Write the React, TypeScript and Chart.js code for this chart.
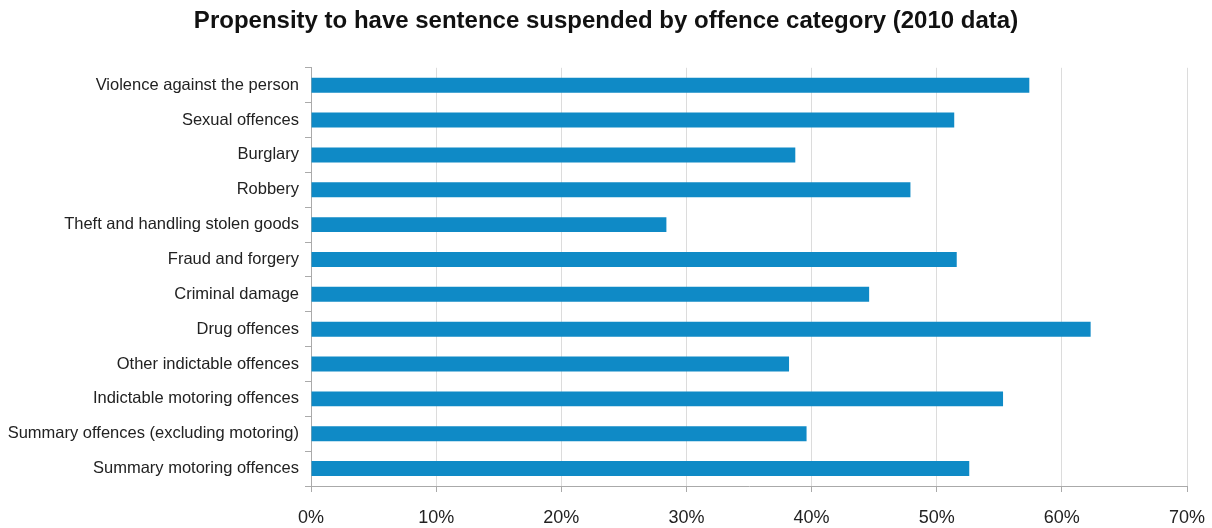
import React, { useEffect, useRef } from "react";
import { Chart, registerables } from "chart.js";

Chart.register(...registerables);

const categories = [
  "Violence against the person",
  "Sexual offences",
  "Burglary",
  "Robbery",
  "Theft and handling stolen goods",
  "Fraud and forgery",
  "Criminal damage",
  "Drug offences",
  "Other indictable offences",
  "Indictable motoring offences",
  "Summary offences (excluding motoring)",
  "Summary motoring offences",
];

const suspendedPct = [57.4, 51.4, 38.7, 47.9, 28.4, 51.6, 44.6, 62.3, 38.2, 55.3, 39.6, 52.6];

const xTicks = [0, 10, 20, 30, 40, 50, 60, 70];

const titleText = "Propensity to have sentence suspended by offence category (2010 data)";

export default function App() {
  const ref = useRef<HTMLCanvasElement | null>(null);

  useEffect(() => {
    if (!ref.current) return;
    const font = "'Liberation Sans', Arial, sans-serif";
    const chart = new Chart(ref.current, {
      type: "bar",
      data: {
        labels: categories,
        datasets: [
          {
            data: suspendedPct,
            backgroundColor: "#0f8ac6",
            borderWidth: 0,
            barPercentage: 0.43,
            categoryPercentage: 1,
          },
        ],
      },
      options: {
        indexAxis: "y",
        animation: false,
        responsive: false,
        maintainAspectRatio: false,
        layout: { padding: { left: 0, right: 0, top: 0, bottom: 0 } },
        plugins: {
          legend: { display: false },
          tooltip: { enabled: false },
          title: {
            display: true,
            text: titleText,
            color: "#111",
            font: { family: font, size: 24, weight: "bold" },
            padding: { top: 7, bottom: 32 },
          },
        },
        scales: {
          x: {
            min: 0,
            max: 70,
            afterBuildTicks: (scale: any) => {
              scale.ticks = xTicks.map((v) => ({ value: v }));
            },
            afterFit: (scale: any) => {
              scale.height = 42;
              scale.paddingRight = 25;
            },
            ticks: {
              callback: (v: any) => v + "%",
              color: "#222",
              font: { family: font, size: 18 },
              padding: 15,
            },
            grid: { color: "#dcdcdc", tickLength: 6, tickColor: "#aaa" },
            border: { color: "#aaa" },
          },
          y: {
            afterFit: (scale: any) => {
              scale.width = 311;
            },
            ticks: {
              color: "#222",
              font: { family: font, size: 16.5 },
              padding: 6,
            },
            grid: {
              drawOnChartArea: false,
              offset: true,
              tickLength: 6,
              color: "#aaa",
            },
            border: { color: "#aaa" },
          },
        },
      },
    });
    return () => chart.destroy();
  }, []);

  return (
    <div style={{ position: "fixed", left: 0, top: 0, width: 1212, height: 528, background: "#fff" }}>
      <canvas ref={ref} width={1212} height={528} style={{ width: 1212, height: 528 }} />
    </div>
  );
}
